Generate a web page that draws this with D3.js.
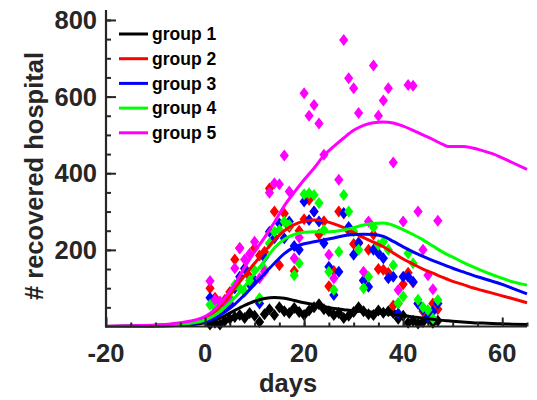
<!DOCTYPE html>
<html><head><meta charset="utf-8">
<script src="https://cdn.jsdelivr.net/npm/d3@7"></script>
<style>
body{margin:0;background:#fff;}
text{font-family:"Liberation Sans",Arial,sans-serif;font-weight:bold;}
</style></head>
<body><svg id="c" width="537" height="400"></svg>
<script>
const groupNames = ["group 1","group 2","group 3","group 4","group 5"];
const groupColors = ["#000000","#ff0000","#0000ff","#00ff00","#ff00ff"];
const obsDays = [1,2,3,4,5,6,7,8,9,10,11,12,13,14,15,16,17,18,19,20,21,22,23,24,25,26,27,28,29,30,31,32,33,34,35,36,37,38,39,40,41,42,43,44,45,46,47];
const obs1 = [5,10,5,15,20,25,30,22,35,28,12,32,45,30,50,40,35,48,38,30,42,50,58,45,40,30,35,22,28,38,50,40,32,30,42,36,40,35,20,28,10,15,8,12,20,10,15];
const obs2 = [100,75,60,70,90,175,205,150,130,205,185,195,360,300,160,295,260,145,250,280,330,300,240,275,105,145,300,295,250,215,220,120,200,240,150,148,140,55,60,110,140,115,60,40,30,60,45];
const obs3 = [75,55,45,50,60,100,130,152,110,120,60,180,247,230,269,230,274,210,200,326,278,300,274,217,156,82,143,296,260,187,217,120,104,200,191,178,126,130,34,130,130,117,60,45,25,39,60];
const obs4 = [57,50,45,60,75,108,100,90,120,147,74,150,217,247,252,274,265,134,165,345,348,343,322,252,143,95,195,343,300,248,200,100,130,259,213,221,200,160,61,78,191,165,70,50,43,21,69];
const obs5 = [119,70,65,60,70,152,204,175,190,221,126,143,349,374,371,446,352,178,232,609,550,578,530,448,187,126,383,748,648,622,557,143,274,681,550,590,622,428,95,274,630,628,300,200,134,97,276];
const curveDays = [-20,-15,-10,-5,0,2,4,6,8,10,12,14,16,18,20,22,24,26,28,30,32,34,36,38,40,42,44,46,48,49,50,52,54,56,58,60,62,65];
const curve1 = [0,0.5,1,3,10,17,28,42,55,66,73,76,74,68,62,57,52,47,44,41,39,37,34,31,29,25,22,19,16,15,14,12,10,9,8,7,6,5];
const curve2 = [0.3,1.5,3,8,20,38,66,100,133,165,195,225,250,266,275,278,275,268,258,245,232,220,208,192,176,163,150,139,128,123,118,110,101,94,87,80,73,62];
const curve3 = [0.2,0.8,2,5,12,22,38,58,83,110,138,165,190,207,216,221,226,231,237,240,241,240,235,222,208,195,183,172,162,157,152,143,134,126,118,110,100,85];
const curve4 = [0.2,1,2.5,6,17,30,50,75,105,138,172,205,228,240,246,247,247,248,252,258,265,269,270,264,253,240,226,210,194,187,181,168,156,145,135,126,117,108];
const curve5 = [0.5,2,4,10,26,45,75,110,155,195,232,272,315,350,383,413,446,470,492,512,525,532,534,531,523,512,500,488,475,470,470,470,466,459,451,440,428,410];
const xTicks = [-20,0,20,40,60];
const yTicks = [200,400,600,800];

const svg = d3.select("#c");
const x = d3.scaleLinear().domain([-20,65]).range([106,527]);
const y = d3.scaleLinear().domain([0,826]).range([326.5,10]);
const axisColor = "#262626";

const obsAll = [obs1,obs2,obs3,obs4,obs5];
const curves = [curve1,curve2,curve3,curve4,curve5];

// scatter diamonds
const diamond = "M0,-6L4.6,0L0,6L-4.6,0Z";
obsAll.forEach((arr,gi)=>{
  svg.append("g").selectAll("path").data(arr).join("path")
    .attr("d",diamond)
    .attr("transform",(v,i)=>`translate(${x(obsDays[i])},${y(v)})`)
    .attr("fill",groupColors[gi]);
});
// model curves
const line = d3.line().x((v,i)=>x(curveDays[i])).y(v=>y(v)).curve(d3.curveMonotoneX);
curves.forEach((c,gi)=>{
  svg.append("path").attr("d",line(c)).attr("fill","none")
    .attr("stroke",groupColors[gi]).attr("stroke-width",3);
});

// axes
const yAxis = d3.axisRight(y).tickValues(yTicks).tickSize(10).tickFormat("");
const gy = svg.append("g").attr("transform","translate(106,0)").call(yAxis);
const yMinor = d3.axisRight(y).tickValues(d3.range(50,826,50)).tickSize(5).tickFormat("");
const gym = svg.append("g").attr("transform","translate(106,0)").call(yMinor);
const xAxis = d3.axisTop(x).tickValues(xTicks).tickSize(9).tickFormat("");
const gx = svg.append("g").attr("transform","translate(0,326.5)").call(xAxis);
const xMinor = d3.axisTop(x).tickValues(d3.range(-15,66,5)).tickSize(4).tickFormat("");
const gxm = svg.append("g").attr("transform","translate(0,326.5)").call(xMinor);
[gy,gym,gx,gxm].forEach(g=>{
  g.selectAll("path.domain").attr("stroke",axisColor).attr("stroke-width",2.2);
  g.selectAll(".tick line").attr("stroke",axisColor).attr("stroke-width",2);
});
gy.select("path.domain").attr("d","M0,10V327.6");
gym.select("path.domain").remove();
gxm.select("path.domain").remove();
gx.select("path.domain").attr("d","M105,0H527");

// tick labels
svg.append("g").selectAll("text").data(yTicks).join("text")
  .attr("x",97).attr("y",d=>y(d)).attr("dy","0.36em")
  .attr("text-anchor","end").attr("font-size",25.5).attr("fill",axisColor).text(d=>d);
svg.append("g").selectAll("text").data(xTicks).join("text")
  .attr("x",d=>x(d)).attr("y",362)
  .attr("text-anchor","middle").attr("font-size",25.5).attr("fill",axisColor).text(d=>d);

// axis labels
svg.append("text").attr("x",288).attr("y",392).attr("text-anchor","middle")
  .attr("font-size",25.5).attr("fill",axisColor).text("days");
svg.append("text").attr("transform","translate(43,176) rotate(-90)").attr("text-anchor","middle")
  .attr("font-size",25.5).attr("fill",axisColor).text("# recovered hospital");

// legend
const lg = svg.append("g");
groupNames.forEach((n,i)=>{
  const yy = 34 + i*24.7;
  lg.append("line").attr("x1",119).attr("x2",148).attr("y1",yy).attr("y2",yy)
    .attr("stroke",groupColors[i]).attr("stroke-width",3);
  lg.append("text").attr("x",152).attr("y",yy).attr("dy","0.35em")
    .attr("font-size",17.5).attr("fill","#000").text(n);
});
</script></body></html>
